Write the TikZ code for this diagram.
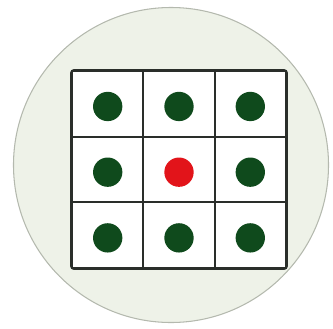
\documentclass[tikz,border=0pt]{standalone}
\usetikzlibrary{positioning}
\definecolor{platefill}{HTML}{EEF2E8}
\definecolor{plateline}{HTML}{B4B9AE}
\definecolor{gridline}{HTML}{2A2E2A}
\definecolor{leaf}{HTML}{0F4A1C}
\definecolor{alert}{HTML}{E2141A}
\tikzset{
  plate node/.style={
    circle,
    draw=plateline,
    fill=platefill,
    line width=0.9pt,
    minimum size=9.45cm,
    inner sep=0pt,
  },
  cell node/.style={
    rectangle,
    draw=gridline,
    fill=white,
    line width=1.5pt,
    minimum width=2.14cm,
    minimum height=1.97cm,
    inner sep=0pt,
  },
  dot node/.style={
    circle,
    fill=leaf,
    minimum size=0.88cm,
    inner sep=0pt,
  },
  frame/.style={
    draw=gridline,
    line width=1.8pt,
    rounded corners=2.5pt,
  },
}
\begin{document}
\begin{tikzpicture}[x=0.03cm, y=-0.03cm]
  \useasboundingbox (0,0) rectangle (333,328);

  % --- Plate ---
  \node[plate node] (plate) at (171,165) {};

  % --- Cells (3 x 3) ---
  \foreach \r in {1,2,3} {
    \foreach \c in {1,2,3} {
      \node[cell node] (c\r\c) at ({36.4+71.3*\c},{38.1+65.7*\r}) {};
    }
  }
  \draw[frame] (c11.north west) rectangle (c33.south east);

  % --- Dots ---
  \foreach \r/\c in {1/1,1/2,1/3,2/1,2/3,3/1,3/2,3/3} {
    \node[dot node, yshift=-0.08cm] (d\r\c) at (c\r\c) {};
  }
  \node[dot node, fill=alert, yshift=-0.08cm] (d22) at (c22) {};

\end{tikzpicture}
\end{document}
